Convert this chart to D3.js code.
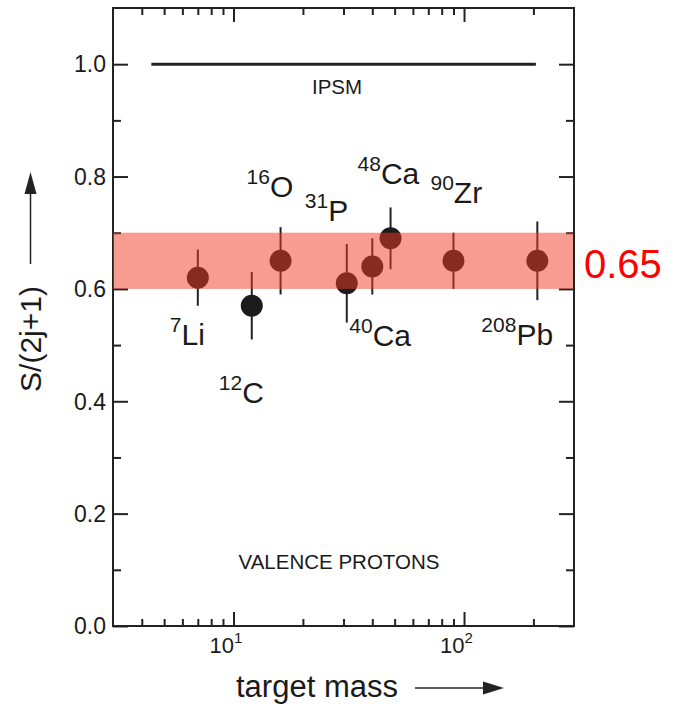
<!DOCTYPE html>
<html>
<head>
<meta charset="UTF-8">
<title>Spectroscopic factors, valence protons</title>
<script src="https://cdnjs.cloudflare.com/ajax/libs/d3/7.8.5/d3.min.js"></script>
<style>
    body { margin: 0; background: #fff; }
    svg text { font-family: "Liberation Sans", Arial, Helvetica, sans-serif; fill: #1a1a1a; }
</style>
</head>
<body>
<svg id="chart" width="681" height="704"></svg>

<script>

// ---- data ----
var nuclei   = ["Li", "C", "O", "P", "Ca", "Ca", "Zr", "Pb"];
var massNums = [7, 12, 16, 31, 40, 48, 90, 208];
var sValues  = [0.62, 0.57, 0.65, 0.61, 0.64, 0.69, 0.65, 0.65];
var sErrors  = [0.05, 0.06, 0.06, 0.07, 0.05, 0.055, 0.05, 0.07];

var ipsmValue = 1.0;
var ipsmRange = [4.4, 205];

var bandRange = [0.6, 0.7];
var bandText  = "0.65";

var yMajorTicks = [0, 0.2, 0.4, 0.6, 0.8, 1.0];
var yMinorTicks = [0.1, 0.3, 0.5, 0.7, 0.9];
var xMajorTicks = [10, 100];
var xMinorTicks = [4, 5, 6, 7, 8, 9, 20, 30, 40, 50, 60, 70, 80, 90, 200];

// ---- layout ----
var plot = { left: 113, right: 574, top: 8, bottom: 626 };

// where each isotope label sits relative to its point (pixels)
var labelOffsets = [
    [-28, 67], [-33, 97], [-34, -64], [-42, -62],
    [-23, 80], [-33, -54], [-23, -58], [-56, 84]
];

var svg = d3.select("#chart");

var x = d3.scaleLog().domain([3, 300]).range([plot.left, plot.right]);
var y = d3.scaleLinear().domain([0, 1.1]).range([plot.bottom, plot.top]);

// frame ticks, all pointing inward
function tickAxis(axisFn, scale, values, size, tx, ty) {
    svg.append("g")
        .attr("transform", "translate(" + tx + "," + ty + ")")
        .call(axisFn(scale).tickValues(values).tickSize(size).tickFormat(""))
        .call(function(g) {
            g.select(".domain").remove();
            g.selectAll("line").attr("stroke", "#222").attr("stroke-width", 2);
        });
}

tickAxis(d3.axisBottom, x, xMajorTicks, -14, 0, plot.bottom);
tickAxis(d3.axisBottom, x, xMinorTicks, -7, 0, plot.bottom);
tickAxis(d3.axisTop, x, xMajorTicks, -14, 0, plot.top);
tickAxis(d3.axisTop, x, xMinorTicks, -7, 0, plot.top);
tickAxis(d3.axisLeft, y, yMajorTicks, -15, plot.left, 0);
tickAxis(d3.axisLeft, y, yMinorTicks, -8, plot.left, 0);
tickAxis(d3.axisRight, y, yMajorTicks, -15, plot.right, 0);
tickAxis(d3.axisRight, y, yMinorTicks, -8, plot.right, 0);

// frame
svg.append("rect")
    .attr("x", plot.left)
    .attr("y", plot.top)
    .attr("width", plot.right - plot.left)
    .attr("height", plot.bottom - plot.top)
    .attr("fill", "none")
    .attr("stroke", "#222")
    .attr("stroke-width", 2);

// y tick labels
svg.selectAll(".ylab")
    .data(yMajorTicks)
    .enter().append("text")
    .attr("x", 106)
    .attr("y", function(d) { return y(d); })
    .attr("dy", "0.36em")
    .attr("text-anchor", "end")
    .attr("font-size", 23)
    .text(function(d) { return d.toFixed(1); });

// x tick labels, 10^n
var xl = svg.selectAll(".xlab")
    .data(xMajorTicks)
    .enter().append("text")
    .attr("x", function(d) { return x(d) - 24; })
    .attr("y", 653)
    .attr("font-size", 22)
    .attr("font-family", "'Liberation Sans', Arial, sans-serif");
xl.append("tspan").text("10");
xl.append("tspan")
    .attr("font-size", 15)
    .attr("dy", -10)
    .text(function(d) { return Math.round(Math.log10(d)); });

// axis titles with arrows
svg.append("text")
    .attr("x", 236)
    .attr("y", 697)
    .attr("font-size", 31)
    .text("target mass");

svg.append("line")
    .attr("x1", 415).attr("y1", 688)
    .attr("x2", 485).attr("y2", 688)
    .attr("stroke", "#222").attr("stroke-width", 1.5);
svg.append("path")
    .attr("d", "M483,681.5 L504,688 L483,694.5 Z")
    .attr("fill", "#222");

svg.append("text")
    .attr("transform", "translate(41,339) rotate(-90)")
    .attr("text-anchor", "middle")
    .attr("font-size", 30)
    .text("S/(2j+1)");

svg.append("line")
    .attr("x1", 30.5).attr("y1", 264)
    .attr("x2", 30.5).attr("y2", 192)
    .attr("stroke", "#222").attr("stroke-width", 1.5);
svg.append("path")
    .attr("d", "M24.5,194 L30.5,172 L36.5,194 Z")
    .attr("fill", "#222");

// independent-particle shell model line
svg.append("line")
    .attr("x1", x(ipsmRange[0])).attr("x2", x(ipsmRange[1]))
    .attr("y1", y(ipsmValue)).attr("y2", y(ipsmValue))
    .attr("stroke", "#222").attr("stroke-width", 3);

svg.append("text")
    .attr("x", 337)
    .attr("y", 94)
    .attr("text-anchor", "middle")
    .attr("font-size", 20.5)
    .text("IPSM");

svg.append("text")
    .attr("x", 339)
    .attr("y", 569)
    .attr("text-anchor", "middle")
    .attr("font-size", 20.5)
    .text("VALENCE PROTONS");

// error bars and points
var pts = svg.append("g");

pts.selectAll("line")
    .data(massNums)
    .enter().append("line")
    .attr("x1", function(d) { return x(d); })
    .attr("x2", function(d) { return x(d); })
    .attr("y1", function(d, i) { return y(sValues[i] - sErrors[i]); })
    .attr("y2", function(d, i) { return y(sValues[i] + sErrors[i]); })
    .attr("stroke", "#222")
    .attr("stroke-width", 2);

pts.selectAll("circle")
    .data(massNums)
    .enter().append("circle")
    .attr("cx", function(d) { return x(d); })
    .attr("cy", function(d, i) { return y(sValues[i]); })
    .attr("r", 11)
    .attr("fill", "#1c1c1c");

// isotope labels
var iso = svg.selectAll(".iso")
    .data(massNums)
    .enter().append("text")
    .attr("x", function(d, i) { return x(d) + labelOffsets[i][0]; })
    .attr("y", function(d, i) { return y(sValues[i]) + labelOffsets[i][1]; })
    .attr("font-size", 30);
iso.append("tspan")
    .attr("font-size", 21)
    .attr("dy", -13)
    .text(function(d) { return d; });
iso.append("tspan")
    .attr("dy", 13)
    .text(function(d, i) { return nuclei[i]; });

// the highlighted band sits on top of everything, semi-transparent
svg.append("rect")
    .attr("x", x(3))
    .attr("width", x(300) - x(3) - 1)
    .attr("y", y(bandRange[1]))
    .attr("height", y(bandRange[0]) - y(bandRange[1]))
    .attr("fill", "rgb(242,56,34)")
    .attr("fill-opacity", 0.5);

svg.append("text")
    .attr("x", 584)
    .attr("y", 278)
    .attr("font-family", "'Open Sans', sans-serif")
    .attr("font-size", 40)
    .style("fill", "#ff0000")
    .text(bandText);

</script>
</body>
</html>
